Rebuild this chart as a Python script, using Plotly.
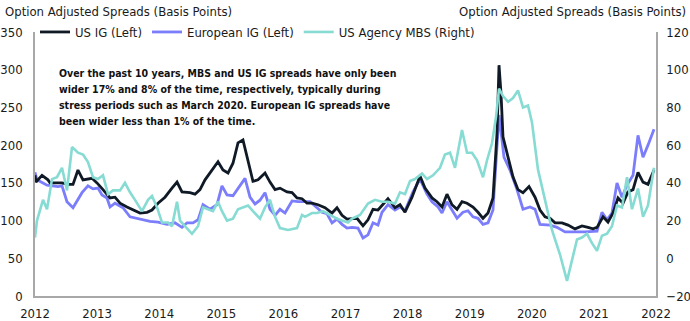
import plotly.graph_objects as go

# ---- Data (decimal years) ----
us_ig_x = [2012.000, 2012.016, 2012.113, 2012.209, 2012.242, 2012.435, 2012.531, 2012.612, 2012.692, 2012.773,
           2012.918, 2012.998, 2013.095, 2013.208, 2013.288, 2013.369, 2013.481, 2013.578, 2013.691, 2013.804,
           2013.884, 2013.981, 2014.093, 2014.206, 2014.287, 2014.367, 2014.496, 2014.577, 2014.657, 2014.738,
           2014.947, 2015.027, 2015.108, 2015.188, 2015.269, 2015.349, 2015.414, 2015.462, 2015.510, 2015.591,
           2015.704, 2015.784, 2015.865, 2015.945, 2016.058, 2016.139, 2016.219, 2016.300, 2016.380, 2016.461,
           2016.557, 2016.670, 2016.783, 2016.863, 2016.944, 2017.024, 2017.105, 2017.185, 2017.282, 2017.362,
           2017.443, 2017.523, 2017.684, 2017.797, 2017.878, 2017.958, 2018.071, 2018.200, 2018.280, 2018.393,
           2018.473, 2018.554, 2018.634, 2018.715, 2018.796, 2018.876, 2018.957, 2019.053, 2019.134, 2019.214,
           2019.295, 2019.375, 2019.440, 2019.472, 2019.504, 2019.536, 2019.617, 2019.697, 2019.778, 2019.858,
           2019.955, 2020.052, 2020.132, 2020.213, 2020.293, 2020.374, 2020.486, 2020.583, 2020.696, 2020.808,
           2020.905, 2020.986, 2021.050, 2021.147, 2021.227, 2021.308, 2021.388, 2021.469, 2021.549, 2021.630,
           2021.710, 2021.791, 2021.871, 2021.968]
us_ig_y = [160, 151, 160, 154, 150, 150, 148, 148, 167, 154,
           156, 150, 141, 130, 131, 123, 118, 114, 110, 111,
           114, 123, 131, 143, 151, 138, 137, 135, 141, 154,
           178, 167, 163, 176, 203, 207, 184, 167, 152, 154,
           163, 151, 141, 143, 138, 137, 130, 129, 123, 123,
           121, 117, 110, 117, 107, 102, 103, 103, 93, 101,
           115, 114, 129, 117, 121, 111, 131, 159, 143, 130,
           125, 118, 135, 121, 115, 125, 123, 118, 111, 103,
           110, 130, 216, 306, 269, 211, 184, 158, 141, 137,
           145, 131, 114, 105, 103, 97, 97, 94, 89, 93,
           91, 89, 91, 105, 98, 110, 130, 123, 138, 141,
           164, 151, 148, 167]

eur_ig_x = [2012.000, 2012.032, 2012.193, 2012.370, 2012.435, 2012.515, 2012.612, 2012.757, 2012.853, 2012.934,
            2013.014, 2013.079, 2013.159, 2013.208, 2013.288, 2013.417, 2013.530, 2013.643, 2013.739, 2013.852,
            2013.981, 2014.126, 2014.254, 2014.367, 2014.448, 2014.544, 2014.625, 2014.705, 2014.818, 2014.931,
            2015.011, 2015.092, 2015.188, 2015.301, 2015.382, 2015.462, 2015.543, 2015.623, 2015.704, 2015.784,
            2015.865, 2015.945, 2016.026, 2016.139, 2016.235, 2016.348, 2016.428, 2016.541, 2016.622, 2016.702,
            2016.783, 2016.863, 2016.944, 2017.024, 2017.105, 2017.201, 2017.282, 2017.362, 2017.443, 2017.523,
            2017.588, 2017.684, 2017.797, 2017.878, 2017.958, 2018.087, 2018.200, 2018.312, 2018.393, 2018.490,
            2018.554, 2018.634, 2018.715, 2018.796, 2018.892, 2018.973, 2019.053, 2019.134, 2019.214, 2019.295,
            2019.375, 2019.472, 2019.520, 2019.552, 2019.649, 2019.762, 2019.858, 2019.971, 2020.052, 2020.132,
            2020.293, 2020.406, 2020.535, 2020.696, 2020.857, 2021.050, 2021.130, 2021.211, 2021.291, 2021.372,
            2021.452, 2021.533, 2021.630, 2021.710, 2021.791, 2021.871, 2021.968]
eur_ig_y = [164, 154, 147, 145, 146, 125, 117, 137, 146, 142,
            143, 134, 130, 118, 123, 117, 105, 103, 102, 99,
            98, 95, 97, 91, 97, 97, 101, 121, 115, 121,
            146, 134, 133, 146, 156, 131, 122, 127, 137, 115,
            107, 115, 110, 126, 125, 125, 125, 117, 111, 109,
            97, 102, 95, 90, 91, 90, 77, 81, 97, 94,
            111, 121, 114, 118, 113, 138, 155, 135, 125, 118,
            110, 125, 114, 103, 111, 113, 105, 103, 95, 97,
            114, 240, 207, 184, 167, 141, 115, 118, 115, 95,
            94, 91, 85, 85, 85, 86, 111, 101, 110, 150,
            131, 147, 160, 213, 184, 200, 221]

mbs_x = [2012.000, 2012.032, 2012.129, 2012.193, 2012.274, 2012.354, 2012.435, 2012.515, 2012.596, 2012.692,
         2012.773, 2012.853, 2012.934, 2013.014, 2013.095, 2013.176, 2013.256, 2013.369, 2013.449, 2013.530,
         2013.610, 2013.691, 2013.723, 2013.820, 2013.884, 2013.965, 2014.045, 2014.142, 2014.206, 2014.287,
         2014.335, 2014.415, 2014.528, 2014.625, 2014.705, 2014.786, 2014.866, 2014.947, 2015.011, 2015.092,
         2015.188, 2015.269, 2015.349, 2015.430, 2015.510, 2015.623, 2015.704, 2015.784, 2015.865, 2015.945,
         2016.074, 2016.219, 2016.300, 2016.348, 2016.461, 2016.541, 2016.638, 2016.750, 2016.863, 2016.944,
         2017.040, 2017.105, 2017.234, 2017.362, 2017.475, 2017.588, 2017.684, 2017.797, 2017.878, 2017.958,
         2018.039, 2018.119, 2018.232, 2018.312, 2018.409, 2018.522, 2018.602, 2018.683, 2018.763, 2018.876,
         2018.957, 2019.037, 2019.118, 2019.214, 2019.279, 2019.359, 2019.424, 2019.472, 2019.536, 2019.617,
         2019.697, 2019.778, 2019.858, 2019.939, 2020.003, 2020.100, 2020.213, 2020.325, 2020.374, 2020.454,
         2020.567, 2020.647, 2020.728, 2020.808, 2020.889, 2020.969, 2021.050, 2021.130, 2021.211, 2021.291,
         2021.372, 2021.452, 2021.533, 2021.614, 2021.710, 2021.791, 2021.871, 2021.968]
mbs_y = [11, 20, 31, 26, 42, 43, 48, 36, 59, 56,
         55, 51, 43, 42, 44, 34, 36, 36, 40, 35,
         31, 27, 25, 31, 33, 27, 19, 19, 17, 30,
         20, 17, 13, 17, 27, 26, 25, 30, 25, 20,
         21, 26, 27, 28, 25, 21, 27, 31, 22, 16,
         15, 16, 23, 22, 24, 24, 25, 23, 21, 20,
         19, 21, 23, 29, 31, 30, 30, 29, 35, 34,
         41, 42, 45, 42, 44, 48, 55, 56, 48, 68,
         56, 56, 52, 43, 52, 61, 75, 90, 86, 83,
         85, 89, 80, 81, 72, 47, 31, 15, 10, 2,
         -12, -1, 10, 11, 13, 8, 4, 12, 13, 17,
         28, 27, 43, 26, 37, 22, 28, 48]

year_ticks = [2012, 2013, 2014, 2015, 2016, 2017, 2018, 2019, 2020, 2021, 2022]

note_lines = [
    "Over the past 10 years, MBS and US IG spreads have only been",
    "wider 17% and 8% of the time, respectively, typically during",
    "stress periods such as March 2020. European IG spreads have",
    "been wider less than 1% of the time.",
]

# ---- Styling ----
FONT = "DejaVu Sans Condensed, Roboto, sans-serif"
C_US = "#0f1a26"
C_EU = "#7b7dfb"
C_MBS = "#86dbd3"
AXIS_C = "#a8a8a8"

fig = go.Figure()
fig.add_trace(go.Scatter(x=mbs_x, y=mbs_y, name="US Agency MBS (Right)", mode="lines",
                         line=dict(color=C_MBS, width=2.6), yaxis="y2", legendrank=3))
fig.add_trace(go.Scatter(x=eur_ig_x, y=eur_ig_y, name="European IG (Left)", mode="lines",
                         line=dict(color=C_EU, width=2.8), legendrank=2))
fig.add_trace(go.Scatter(x=us_ig_x, y=us_ig_y, name="US IG (Left)", mode="lines",
                         line=dict(color=C_US, width=2.8), legendrank=1))

# note lines: one annotation per line for exact spacing
note_y_px = [73, 89, 105, 121]
PLOT_TOP, PLOT_BOTTOM = 32, 296
annotations = [
    dict(text="Option Adjusted Spreads (Basis Points)", xref="paper", yref="paper",
         x=-0.052, y=1.076, xanchor="left", yanchor="middle", showarrow=False,
         font=dict(size=13)),
    dict(text="Option Adjusted Spreads (Basis Points)", xref="paper", yref="paper",
         x=1.052, y=1.076, xanchor="right", yanchor="middle", showarrow=False,
         font=dict(size=13)),
]
for line, ypx in zip(note_lines, note_y_px):
    annotations.append(dict(
        text="<b>" + line + "</b>", xref="paper", yref="paper",
        x=0.036, y=(PLOT_BOTTOM - ypx) / (PLOT_BOTTOM - PLOT_TOP),
        xanchor="left", yanchor="middle", align="left", showarrow=False,
        font=dict(size=10.5, color="#111111")))

fig.update_layout(
    width=690, height=321,
    margin=dict(l=35, r=34, t=32, b=25, autoexpand=False),
    paper_bgcolor="white", plot_bgcolor="white",
    font=dict(family=FONT, size=13, color="#1a1a1a"),
    showlegend=True,
    legend=dict(orientation="h", x=0.0, y=1.0, xanchor="left", yanchor="middle",
                font=dict(size=13), bgcolor="rgba(0,0,0,0)", itemwidth=30,
                traceorder="normal"),
    xaxis=dict(range=[2012, 2022], tickvals=year_ticks, ticktext=[str(v) for v in year_ticks],
               showgrid=False, zeroline=False, showline=True, linecolor=AXIS_C, linewidth=1.5,
               ticks="", tickfont=dict(size=13), automargin=False, ticklabelstandoff=5),
    yaxis=dict(range=[0, 350], dtick=50, showgrid=False, zeroline=False, showline=True,
               linecolor=AXIS_C, linewidth=1.5, ticks="", automargin=False,
               ticklabelstandoff=8),
    yaxis2=dict(range=[-20, 120], dtick=20, overlaying="y", side="right", showgrid=False,
                zeroline=False, showline=True, linecolor=AXIS_C, linewidth=1.5, ticks="",
                automargin=False, ticklabelstandoff=6),
    annotations=annotations,
)

fig.write_html("out.html")
